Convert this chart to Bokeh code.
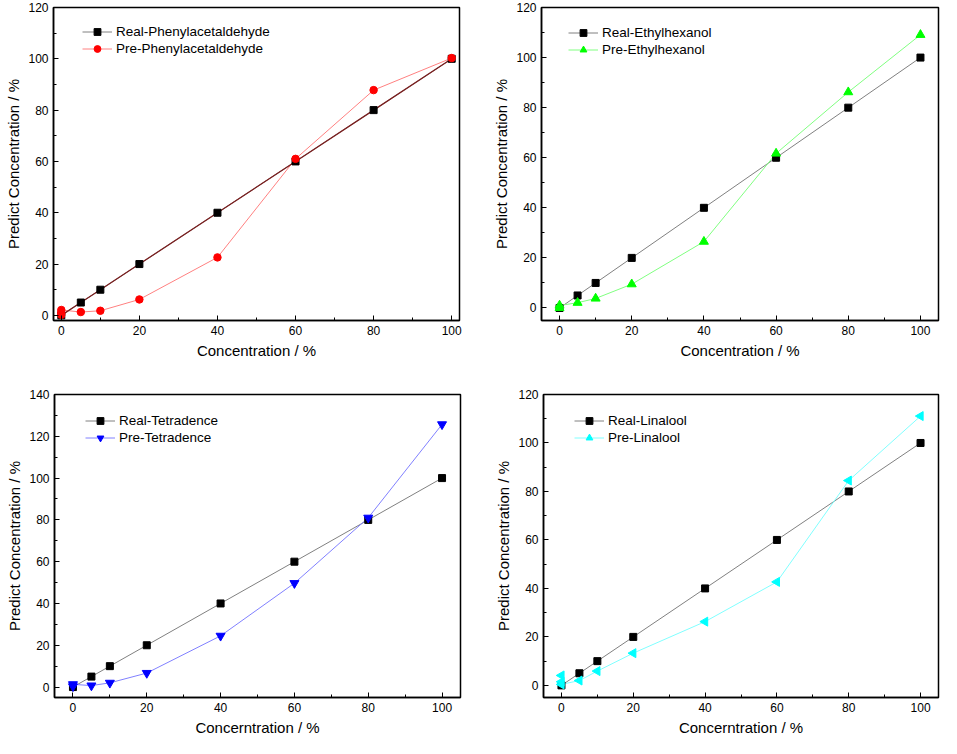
import math
from bokeh.plotting import figure
from bokeh.layouts import column, row
from bokeh.models import Range1d, FixedTicker, Legend, LegendItem
from bokeh.embed import file_html
from bokeh.resources import INLINE

FONT = "Liberation Sans"

# ---------------- data ----------------
conc = [0, 5, 10, 20, 40, 60, 80, 100]
real = [0, 5, 10, 20, 40, 60, 80, 100]

phenyl_x = [0, 0, 0, 5, 10, 20, 40, 60, 80, 100]
phenyl_pre = [0.2, 1.0, 2.1, 1.3, 1.8, 6.2, 22.6, 61.0, 87.8, 100.3]

ethyl_x = [0, 0, 5, 10, 20, 40, 60, 80, 100]
ethyl_pre = [0.0, 1.0, 2.1, 3.8, 9.5, 26.5, 61.7, 86.2, 109.1]

tetra_x = [0, 0, 5, 10, 20, 40, 60, 80, 100]
tetra_pre = [0.3, 1.3, 0.7, 2.0, 6.7, 24.5, 49.7, 81.0, 125.7]

lina_x = [0, 0, 0, 5, 10, 20, 40, 60, 80, 100]
lina_pre = [4.1, 1.5, 0.4, 2.0, 5.9, 13.3, 26.3, 42.7, 84.5, 111.1]

x_ticks = [0, 20, 40, 60, 80, 100]
x_minor = [10, 30, 50, 70, 90]
y_ticks_120 = [0, 20, 40, 60, 80, 100, 120]
y_minor_120 = [10, 30, 50, 70, 90, 110]
y_ticks_140 = [0, 20, 40, 60, 80, 100, 120, 140]
y_minor_140 = [10, 30, 50, 70, 90, 110, 130]


def make_panel(width, height, bl, br, bt, bb, xr, yr, yticks, yminor, xlabel,
               pre_x, pre_y, real_label, pre_label, pre_line, pre_mark, marker,
               angle, msize, real_line, leg_dx, leg_dy):
    p = figure(width=width, height=height, x_range=Range1d(*xr), y_range=Range1d(*yr),
               output_backend="svg", toolbar_location=None,
               min_border_left=bl, min_border_right=br, min_border_top=bt,
               min_border_bottom=bb)
    p.xgrid.visible = False
    p.ygrid.visible = False
    p.outline_line_color = "black"
    p.outline_line_width = 1.5
    p.outline_line_alpha = 1.0

    for ax, ticks, minor in ((p.xaxis[0], x_ticks, x_minor), (p.yaxis[0], yticks, yminor)):
        ax.ticker = FixedTicker(ticks=ticks, minor_ticks=minor)
        ax.axis_line_width = 1.5
        ax.axis_line_color = "black"
        ax.major_tick_in = 5
        ax.major_tick_out = 0
        ax.minor_tick_in = 3
        ax.minor_tick_out = 0
        ax.major_tick_line_color = "black"
        ax.minor_tick_line_color = "black"
        ax.major_label_text_font = FONT
        ax.major_label_text_font_size = "12px"
        ax.major_label_text_color = "black"
        ax.axis_label_text_font = FONT
        ax.axis_label_text_font_size = "15px"
        ax.axis_label_text_font_style = "normal"
        ax.axis_label_text_color = "black"
    p.xaxis.axis_label = xlabel
    p.yaxis.axis_label = "Predict Concentration / %"
    p.xaxis.major_label_standoff = 5
    p.xaxis.axis_label_standoff = 4
    p.yaxis.major_label_standoff = 5
    p.yaxis.axis_label_standoff = 3

    r_grey = p.line(conc, real, line_color="#808080", line_width=1)
    r_pre_line = p.line(pre_x, pre_y, line_color=pre_line, line_width=1)
    if real_line is not None:
        p.line(conc, real, line_color=real_line, line_width=1.3)
    r_sq = p.scatter(conc, real, marker="square", size=7, fill_color="black",
                     line_color="black")
    r_pre = p.scatter(pre_x, pre_y, marker=marker, size=msize, angle=angle,
                      fill_color=pre_mark, line_color=pre_mark)

    leg_h = 34
    frame_h = height - bt - bb
    legend = Legend(items=[LegendItem(label=real_label, renderers=[r_grey, r_sq]),
                           LegendItem(label=pre_label, renderers=[r_pre_line, r_pre])],
                    location=(leg_dx, frame_h - (leg_dy - 8.5) - leg_h),
                    margin=0, padding=0, spacing=0,
                    glyph_width=30, glyph_height=17, label_height=17,
                    label_standoff=4,
                    label_text_font=FONT, label_text_font_size="13.5px",
                    label_text_color="black",
                    border_line_alpha=0, background_fill_alpha=0)
    p.add_layout(legend)
    return p


p1 = make_panel(474, 372, 53, 15, 7, 52, (-2, 102), (-2, 120), y_ticks_120, y_minor_120,
                "Concentration / %", phenyl_x, phenyl_pre,
                "Real-Phenylacetaldehyde", "Pre-Phenylacetaldehyde",
                "#ff8080", "#ff0000", "circle", 0, 7.5, "#7a1f1f", 29, 24)
p2 = make_panel(467, 372, 67, 3, 7, 52, (-5, 105), (-5, 120), y_ticks_120, y_minor_120,
                "Concentration / %", ethyl_x, ethyl_pre,
                "Real-Ethylhexanol", "Pre-Ethylhexanol",
                "#80ff80", "#00ff00", "triangle", 0, 9, None, 27, 25)
p3 = make_panel(474, 366, 54, 14, 20, 39, (-5, 105), (-5, 140), y_ticks_140, y_minor_140,
                "Concerntration / %", tetra_x, tetra_pre,
                "Real-Tetradence", "Pre-Tetradence",
                "#8080ff", "#0000ff", "inverted_triangle", 0, 9, None, 31, 30)
p4 = make_panel(467, 366, 69, 3, 22, 39, (-5, 105), (-5, 120), y_ticks_120, y_minor_120,
                "Concerntration / %", lina_x, lina_pre,
                "Real-Linalool", "Pre-Linalool",
                "#80ffff", "#00ffff", "triangle", math.pi / 2, 9, None, 31, 28)

layout = column(row(p1, p2), row(p3, p4))
open("out.html", "w").write(file_html(layout, INLINE))
